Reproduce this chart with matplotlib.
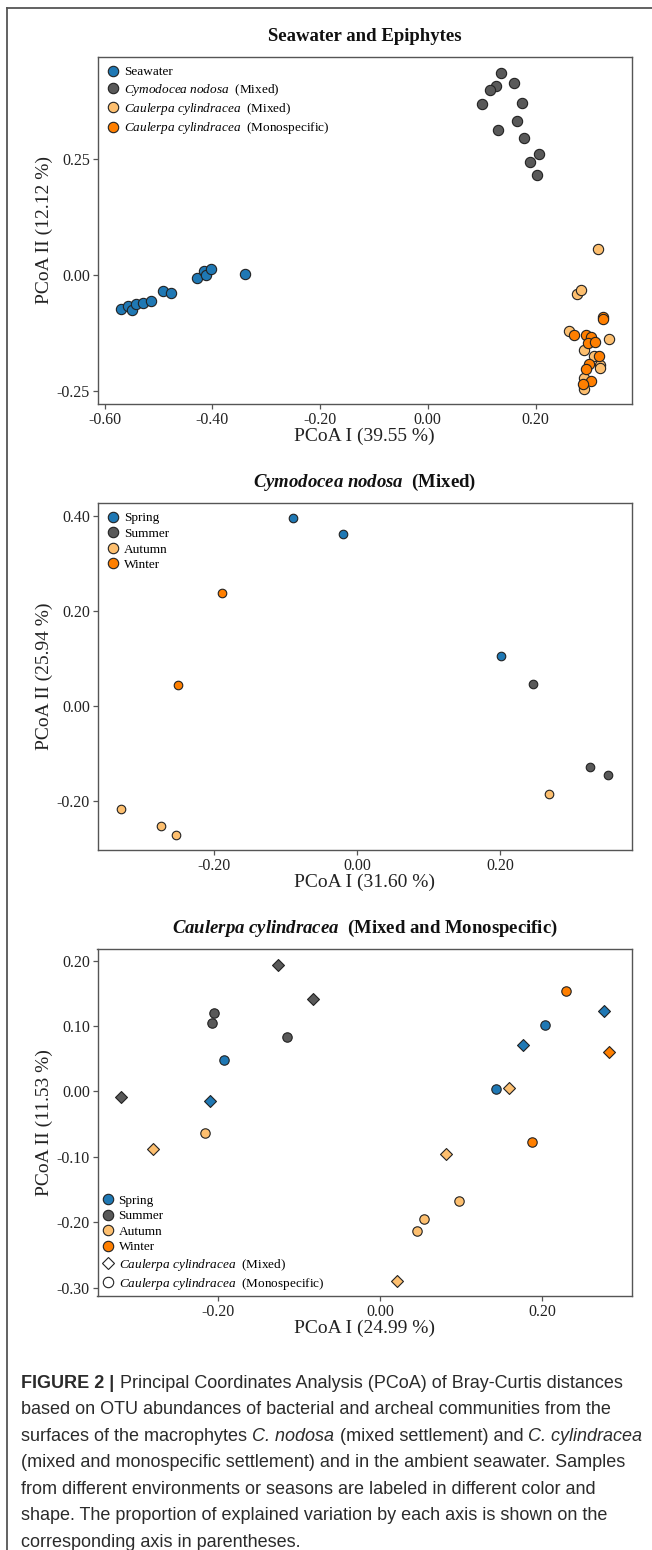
# coding:utf-8

# PCoA ordination plots for seawater and epiphyte communities

import matplotlib
matplotlib.use("Agg")
import matplotlib.pyplot as plt
from matplotlib.lines import Line2D
import numpy as np


# ---- panel 1: seawater and epiphytes ----
sea_x = [-0.569, -0.556, -0.549, -0.541, -0.529, -0.513, -0.491, -0.477, -0.429, -0.415, -0.412, -0.403, -0.339]
sea_y = [-0.072, -0.066, -0.074, -0.062, -0.059, -0.055, -0.034, -0.039, -0.006, 0.010, 0.000, 0.013, 0.002]

cym_x = [0.136, 0.160, 0.126, 0.115, 0.101, 0.174, 0.165, 0.131, 0.179, 0.206, 0.189, 0.202]
cym_y = [0.436, 0.415, 0.408, 0.398, 0.369, 0.372, 0.333, 0.312, 0.296, 0.261, 0.245, 0.216]

caumix_x = [0.315, 0.277, 0.284, 0.263, 0.336, 0.290, 0.308, 0.320, 0.320, 0.289, 0.290]
caumix_y = [0.056, -0.040, -0.032, -0.120, -0.137, -0.161, -0.174, -0.194, -0.200, -0.221, -0.245]

caumono_x = [0.325, 0.326, 0.271, 0.293, 0.303, 0.297, 0.310, 0.317, 0.300, 0.293, 0.303, 0.288]
caumono_y = [-0.089, -0.093, -0.129, -0.128, -0.132, -0.145, -0.143, -0.173, -0.190, -0.201, -0.228, -0.233]

# ---- panel 2: C. nodosa by season ----
cn_spring_x = [-0.089, -0.020, 0.201]
cn_spring_y = [0.396, 0.363, 0.105]
cn_summer_x = [0.246, 0.326, 0.351]
cn_summer_y = [0.046, -0.129, -0.145]
cn_autumn_x = [-0.329, -0.273, -0.252, 0.268]
cn_autumn_y = [-0.217, -0.252, -0.271, -0.186]
cn_winter_x = [-0.188, -0.249]
cn_winter_y = [0.239, 0.044]

# ---- panel 3: C. cylindracea by season (mono = circle, mixed = diamond) ----
cc_mono = {
    "Spring": ([-0.193, 0.143, 0.203], [0.048, 0.004, 0.102]),
    "Summer": ([-0.205, -0.207, -0.115], [0.120, 0.104, 0.083]),
    "Autumn": ([-0.216, 0.097, 0.054, 0.045], [-0.064, -0.168, -0.195, -0.213]),
    "Winter": ([0.229, 0.187], [0.153, -0.077]),
}
cc_mix = {
    "Spring": ([-0.210, 0.177, 0.276], [-0.015, 0.071, 0.123]),
    "Summer": ([-0.320, -0.126, -0.083], [-0.009, 0.194, 0.142]),
    "Autumn": ([-0.281, 0.081, 0.159, 0.021], [-0.088, -0.095, 0.006, -0.290]),
    "Winter": ([0.282], [0.061]),
}

seasons = ["Spring", "Summer", "Autumn", "Winter"]
colors = ["#1f78b4", "#595959", "#fdbf6f", "#ff7f00"]

plt.rcParams["font.family"] = ["Liberation Serif", "DejaVu Serif"]
plt.rcParams["mathtext.fontset"] = "custom"
plt.rcParams["mathtext.rm"] = "Liberation Serif"
plt.rcParams["mathtext.it"] = "Liberation Serif:italic"
plt.rcParams["mathtext.bf"] = "Liberation Serif:bold"
plt.rcParams["mathtext.bfit"] = "Liberation Serif:bold:italic"
plt.rcParams["axes.unicode_minus"] = False

W, H = 652, 1550
fig = plt.figure(figsize=(W / 100, H / 100), dpi=100)

spine_col = "#555555"
txt_col = "#222222"
edge = "#222222"


def make_axes(top, bottom, left=97.5, right=632):
    ax = fig.add_axes([left / W, 1 - bottom / H, (right - left) / W, (bottom - top) / H])
    for s in ax.spines.values():
        s.set_color(spine_col)
        s.set_linewidth(1.0)
    ax.tick_params(direction="out", length=3.5, width=0.9, color=spine_col,
                   labelsize=11.5, labelcolor=txt_col, pad=2)
    return ax


def decorate(ax, title, xlab, ylab):
    ax.text(0.5, 1.06, title, transform=ax.transAxes, ha="center", va="center",
            fontsize=13.5, fontweight="bold", color="#111111")
    ax.text(0.5, -0.092, xlab, transform=ax.transAxes, ha="center", va="center",
            fontsize=14, color=txt_col)
    ax.text(-0.100, 0.5, ylab, transform=ax.transAxes, ha="center", va="center",
            rotation=90, fontsize=14, color=txt_col)


def legend(ax, handles, labels, loc="upper left", bpad=0.5):
    ax.legend(handles, labels, loc=loc, frameon=False, fontsize=9.5,
              handletextpad=0.3, labelspacing=0.25, borderaxespad=0.2,
              handlelength=1.0, borderpad=bpad)


# ---------- top panel ----------
ax1 = make_axes(57, 404)
s1 = 55
ax1.scatter(sea_x, sea_y, s=s1, c=colors[0], edgecolors=edge, linewidths=0.8, zorder=3)
ax1.scatter(cym_x, cym_y, s=s1, c=colors[1], edgecolors=edge, linewidths=0.8, zorder=3)
ax1.scatter(caumix_x, caumix_y, s=s1, c=colors[2], edgecolors=edge, linewidths=0.8, zorder=3)
ax1.scatter(caumono_x, caumono_y, s=s1, c=colors[3], edgecolors=edge, linewidths=0.8, zorder=3)
ax1.set_xlim(-0.613, 0.379)
ax1.set_ylim(-0.277, 0.470)
ax1.set_xticks([-0.6, -0.4, -0.2, 0.0, 0.2])
ax1.set_yticks([-0.25, 0.0, 0.25])
ax1.xaxis.set_major_formatter(plt.FormatStrFormatter("%.2f"))
ax1.yaxis.set_major_formatter(plt.FormatStrFormatter("%.2f"))
h1 = [Line2D([], [], ls="", marker="o", ms=7.5, mfc=c, mec=edge, mew=0.8) for c in colors]
legend(ax1, h1, ["Seawater",
                 r"$\mathit{Cymodocea\ nodosa}$  (Mixed)",
                 r"$\mathit{Caulerpa\ cylindracea}$  (Mixed)",
                 r"$\mathit{Caulerpa\ cylindracea}$  (Monospecific)"])
decorate(ax1, "Seawater and Epiphytes", "PCoA I (39.55 %)", "PCoA II (12.12 %)")

# ---------- middle panel ----------
ax2 = make_axes(503, 850)
s2 = 38
for xs, ys, c in zip([cn_spring_x, cn_summer_x, cn_autumn_x, cn_winter_x],
                     [cn_spring_y, cn_summer_y, cn_autumn_y, cn_winter_y], colors):
    ax2.scatter(xs, ys, s=s2, c=c, edgecolors=edge, linewidths=0.8, zorder=3)
ax2.set_xlim(-0.362, 0.384)
ax2.set_ylim(-0.303, 0.428)
ax2.set_xticks([-0.2, 0.0, 0.2])
ax2.set_yticks([-0.2, 0.0, 0.2, 0.4])
ax2.xaxis.set_major_formatter(plt.FormatStrFormatter("%.2f"))
ax2.yaxis.set_major_formatter(plt.FormatStrFormatter("%.2f"))
h2 = [Line2D([], [], ls="", marker="o", ms=7.5, mfc=c, mec=edge, mew=0.8) for c in colors]
legend(ax2, h2, seasons)
decorate(ax2, r"$\mathbfit{Cymodocea\ nodosa}$  (Mixed)", "PCoA I (31.60 %)", "PCoA II (25.94 %)")

# ---------- bottom panel ----------
ax3 = make_axes(949, 1296)
s3 = 46
for name, c in zip(seasons, colors):
    xs, ys = cc_mono[name]
    ax3.scatter(xs, ys, s=s3, marker="o", c=c, edgecolors=edge, linewidths=0.8, zorder=3)
    xs, ys = cc_mix[name]
    ax3.scatter(xs, ys, s=s3 * 0.8, marker="D", c=c, edgecolors=edge, linewidths=0.8, zorder=3)
ax3.set_xlim(-0.349, 0.311)
ax3.set_ylim(-0.313, 0.218)
ax3.set_xticks([-0.2, 0.0, 0.2])
ax3.set_yticks([-0.3, -0.2, -0.1, 0.0, 0.1, 0.2])
ax3.xaxis.set_major_formatter(plt.FormatStrFormatter("%.2f"))
ax3.yaxis.set_major_formatter(plt.FormatStrFormatter("%.2f"))
h3 = [Line2D([], [], ls="", marker="o", ms=7.5, mfc=c, mec=edge, mew=0.8) for c in colors]
h3.append(Line2D([], [], ls="", marker="D", ms=6.5, mfc="white", mec=edge, mew=0.8))
h3.append(Line2D([], [], ls="", marker="o", ms=7.5, mfc="white", mec=edge, mew=0.8))
legend(ax3, h3, seasons + [r"$\mathit{Caulerpa\ cylindracea}$  (Mixed)",
                           r"$\mathit{Caulerpa\ cylindracea}$  (Monospecific)"],
       loc="lower left", bpad=0.1)
decorate(ax3, r"$\mathbfit{Caulerpa\ cylindracea}$  (Mixed and Monospecific)",
         "PCoA I (24.99 %)", "PCoA II (11.53 %)")

# ---------- page frame ----------
fig.add_artist(Line2D([7 / W, 7 / W], [0, 1 - 8 / H], color="#555555", lw=1.3))
fig.add_artist(Line2D([7 / W, 1], [1 - 8 / H, 1 - 8 / H], color="#555555", lw=1.3))

# ---------- caption ----------
cap_lines = [
    [("FIGURE 2 |", "bold"), ("Principal Coordinates Analysis (PCoA) of Bray-Curtis distances", "normal")],
    [("based on OTU abundances of bacterial and archeal communities from the", "normal")],
    [("surfaces of the macrophytes", "normal"), ("C. nodosa", "italic"),
     ("(mixed settlement) and", "normal"), ("C. cylindracea", "italic")],
    [("(mixed and monospecific settlement) and in the ambient seawater. Samples", "normal")],
    [("from different environments or seasons are labeled in different color and", "normal")],
    [("shape. The proportion of explained variation by each axis is shown on the", "normal")],
    [("corresponding axis in parentheses.", "normal")],
]
cap_size = 12.95
cap_col = "#2b2b2b"
renderer = fig.canvas.get_renderer()


def text_width(s, **kw):
    t = fig.text(0, 0, s, fontsize=cap_size, family="Liberation Sans", **kw)
    w = t.get_window_extent(renderer).width
    t.remove()
    return w


space_w = text_width("x x") - text_width("xx")
y0, dy = 1383, 26.6
for i, pieces in enumerate(cap_lines):
    x = 21.5
    y = 1 - (y0 + i * dy) / H
    for j, (s, style) in enumerate(pieces):
        kw = {}
        if style == "bold":
            kw["fontweight"] = "bold"
        elif style == "italic":
            kw["fontstyle"] = "italic"
        t = fig.text(x / W, y, s, fontsize=cap_size, family="Liberation Sans",
                     color=cap_col, va="center", ha="left", **kw)
        x += t.get_window_extent(renderer).width + space_w

fig.savefig("out.png", dpi=100)
